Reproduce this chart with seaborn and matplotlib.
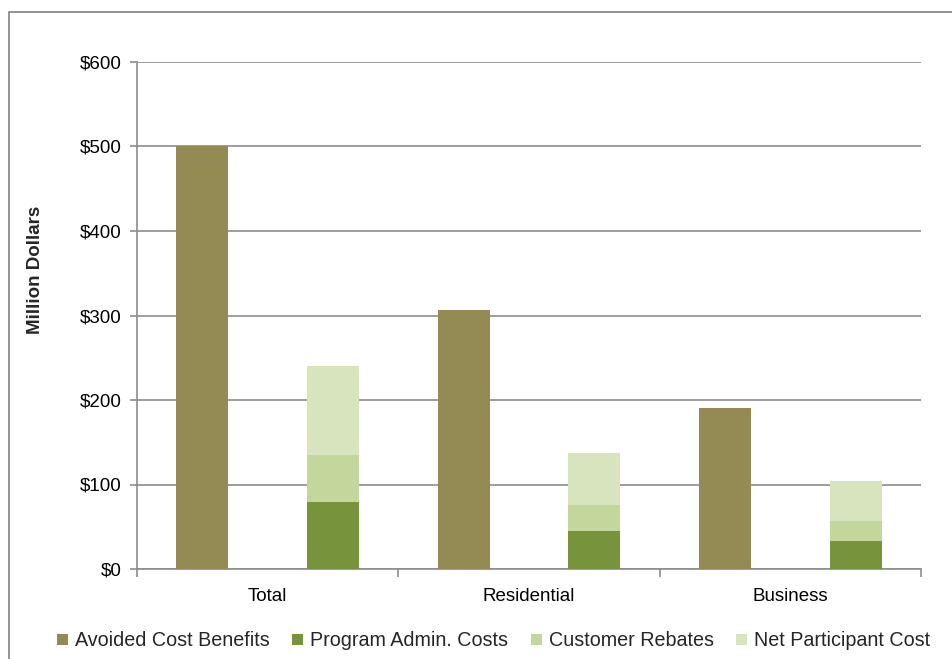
import matplotlib
matplotlib.use("Agg")
import matplotlib.pyplot as plt
import matplotlib.patches as mpatches
import seaborn as sns
import pandas as pd

sectors = ["Total", "Residential", "Business"]
avoided_cost_benefits = [500, 306, 191]
program_admin_costs = [79, 45, 33]
customer_rebates = [56, 31, 24]
net_participant_cost = [105, 61, 47]

series_names = ["Avoided Cost Benefits", "Program Admin. Costs",
                "Customer Rebates", "Net Participant Cost"]
colors = ["#948A54", "#77933C", "#C3D69B", "#D7E4BD"]
y_ticks = [0, 100, 200, 300, 400, 500, 600]
y_tick_labels = ["$0", "$100", "$200", "$300", "$400", "$500", "$600"]

sns.set_theme(style="white")
plt.rcParams['font.family'] = ['Liberation Sans', 'DejaVu Sans']

fig = plt.figure(figsize=(9.53, 6.59), dpi=100)
ax = fig.add_axes([137/953, 1-569/659, (921-137)/953, (569-62)/659])

# cumulative layers for the stacked cost bar
layer_top = [a + r + n for a, r, n in zip(program_admin_costs, customer_rebates, net_participant_cost)]
layer_mid = [a + r for a, r in zip(program_admin_costs, customer_rebates)]
layer_low = list(program_admin_costs)

layers = [
    (avoided_cost_benefits, layer_top, colors[3]),
    ([0, 0, 0], layer_mid, colors[2]),
    ([0, 0, 0], layer_low, colors[1]),
]
for ben, cost, ccol in layers:
    df = pd.DataFrame({
        "Sector": sectors * 2,
        "Value": list(ben) + list(cost),
        "Group": ["Benefit"] * 3 + ["Cost"] * 3,
    })
    sns.barplot(data=df, x="Sector", y="Value", hue="Group", order=sectors,
                hue_order=["Benefit", "Cost"],
                palette={"Benefit": colors[0], "Cost": ccol},
                width=1.0, gap=0.6, saturation=1, legend=False,
                edgecolor="none", linewidth=0, ax=ax, zorder=3)

ax.set_xlim(-0.5, 2.5)
ax.set_ylim(0, 600)
ax.set_yticks(y_ticks)
ax.set_yticklabels(y_tick_labels)
ax.set_xticks([0, 1, 2])
ax.set_xticklabels(sectors)
ax.set_xlabel("")
ax.set_ylabel("Million Dollars", fontsize=13.5, fontweight="bold", labelpad=0)
ax.yaxis.set_label_coords(-(137-44)/784, 0.59)

ax.grid(axis="y", color="#8C8C8C", linewidth=1.2, zorder=0)
ax.set_axisbelow(True)
for s in ["top", "right"]:
    ax.spines[s].set_visible(False)
for s in ["left", "bottom"]:
    ax.spines[s].set_color("#8C8C8C")
    ax.spines[s].set_linewidth(1.2)

ax.tick_params(axis="y", which="major", length=5, width=1.2, color="#8C8C8C",
               left=True, labelsize=13.5, pad=6, labelcolor="black")
ax.tick_params(axis="x", which="major", length=0, labelsize=13.5, pad=14, labelcolor="black")
# boundary ticks between categories
ax.set_xticks([-0.5, 0.5, 1.5, 2.5], minor=True)
ax.tick_params(axis="x", which="minor", length=6, width=1.2, color="#8C8C8C", bottom=True)

handles = [mpatches.Patch(facecolor=c, edgecolor="none", label=n) for c, n in zip(colors, series_names)]
fig.legend(handles=handles, loc="center", bbox_to_anchor=(0.518, 1-641/659), ncol=4,
           frameon=False, fontsize=14.2, handlelength=0.55, handleheight=0.55,
           handletextpad=0.35, columnspacing=1.15)

# outer frame (partially visible)
fig.add_artist(mpatches.Rectangle((9/953, -0.05), 1.1, 1-12/659+0.05,
                                  transform=fig.transFigure, fill=False,
                                  edgecolor="#808080", linewidth=1.2))

fig.savefig("out.png", dpi=100)
